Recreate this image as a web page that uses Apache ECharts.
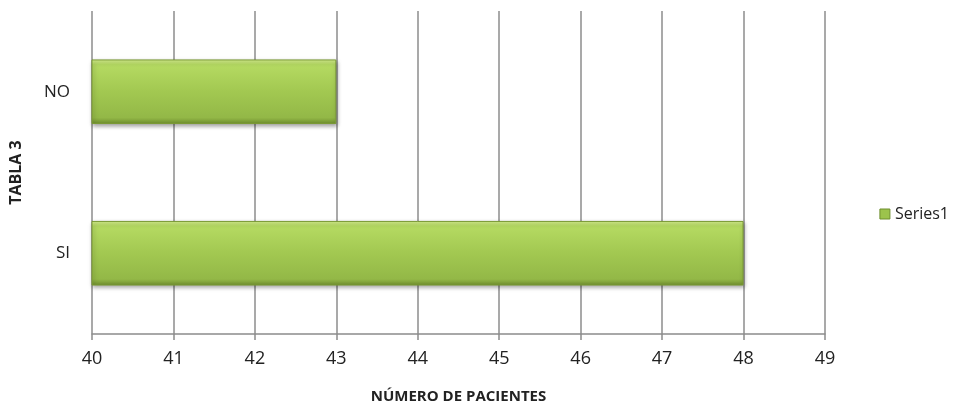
<!DOCTYPE html>
<html><head><meta charset="utf-8">
<script src="https://cdn.jsdelivr.net/npm/echarts@6/dist/echarts.min.js"></script>
<style>html,body{margin:0;padding:0;background:#fff}#c{width:958px;height:409px}</style>
</head><body><div id="c"></div>
<script>
const categories = ['SI', 'NO'];
const seriesName = 'Series1';
const values = [48, 43];
const xMin = 40, xMax = 49, xInterval = 1;

const chart = echarts.init(document.getElementById('c'));
const barColor = new echarts.graphic.LinearGradient(0, 0, 0, 1, [
  {offset: 0, color: '#d8f290'},
  {offset: 0.08, color: '#b5da62'},
  {offset: 0.5, color: '#a2c851'},
  {offset: 0.9, color: '#93b847'},
  {offset: 1, color: '#6f8e2e'}
]);
chart.setOption({
  animation: false,
  textStyle: {fontFamily: 'Open Sans'},
  grid: {left: 90, right: 133, top: 11, bottom: 66, containLabel: false},
  legend: {
    orient: 'vertical', right: 4, top: 201,
    itemWidth: 10, itemHeight: 10, itemGap: 6,
    icon: 'rect',
    textStyle: {fontSize: 16, color: '#222', fontFamily: 'Open Sans'},
    data: [{name: seriesName, itemStyle: {color: '#9cc34c', borderColor: '#6f8e2e', borderWidth: 1}}]
  },
  xAxis: {
    type: 'value', min: xMin, max: xMax, interval: xInterval,
    name: 'NÚMERO DE PACIENTES', nameLocation: 'middle', nameGap: 55,
    nameTextStyle: {fontSize: 15, fontWeight: 'bold', color: '#222', fontFamily: 'Open Sans'},
    axisLine: {show: true, lineStyle: {color: '#8c8c8c', width: 1.5}},
    axisTick: {show: true, length: 6, lineStyle: {color: '#8c8c8c', width: 1.5}},
    axisLabel: {fontSize: 18, color: '#222', margin: 16},
    splitLine: {show: true, lineStyle: {color: '#8c8c8c', width: 1.5}}
  },
  yAxis: {
    type: 'category', data: categories,
    name: 'TABLA 3', nameLocation: 'middle', nameGap: 68, nameRotate: 90,
    nameTextStyle: {fontSize: 16, fontWeight: 'bold', color: '#222', fontFamily: 'Open Sans'},
    axisLine: {show: false}, axisTick: {show: false},
    axisLabel: {fontSize: 17, color: '#222', margin: 22},
    splitLine: {show: false}
  },
  series: [{
    name: seriesName, type: 'bar', data: values,
    barWidth: '40%',
    itemStyle: {
      color: barColor, borderColor: '#7a9a33', borderWidth: 1,
      shadowColor: 'rgba(0,0,0,0.35)', shadowBlur: 4, shadowOffsetX: 1, shadowOffsetY: 2
    }
  }]
});
</script></body></html>
